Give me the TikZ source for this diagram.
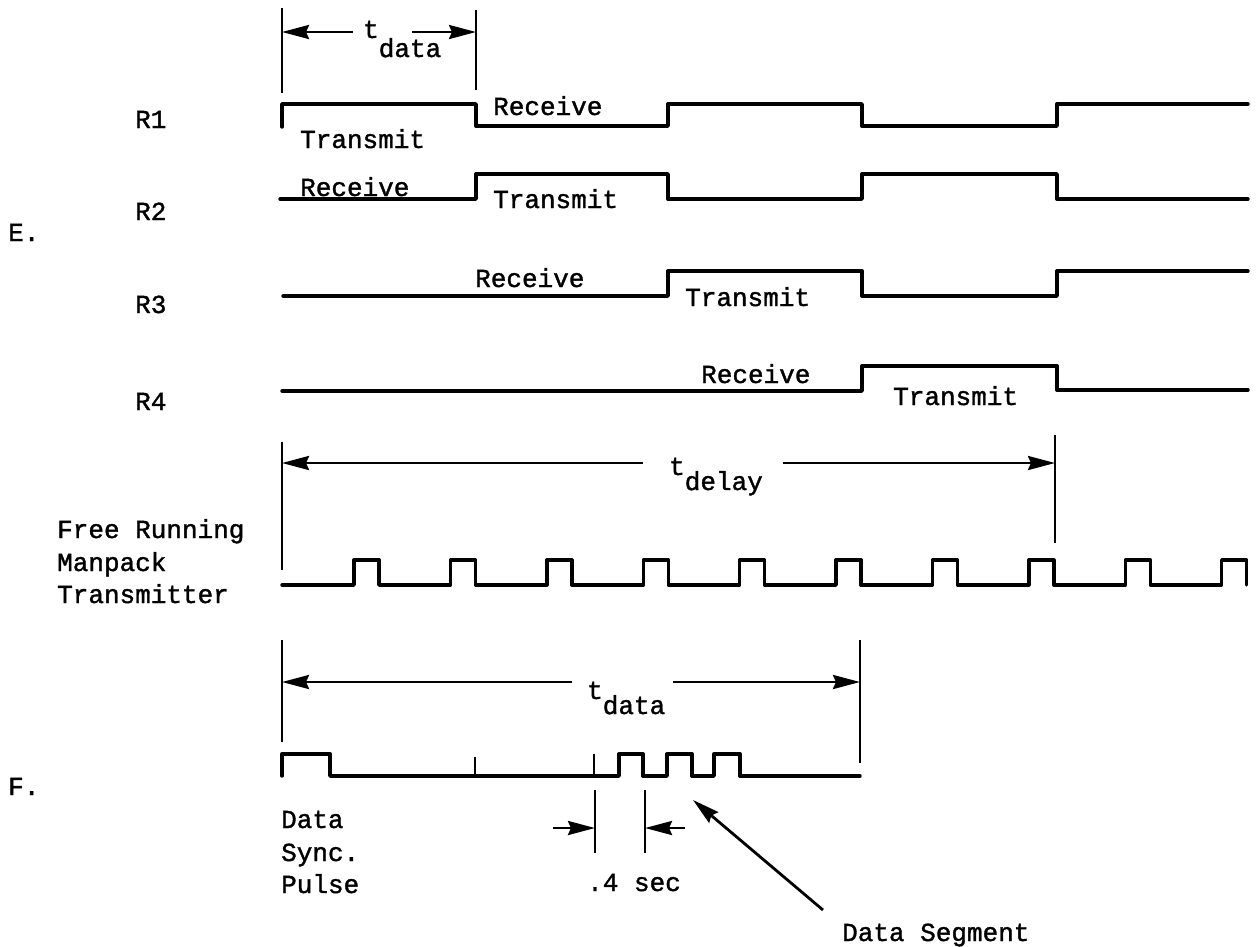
\documentclass[tikz,border=0pt]{standalone}
\usepackage{fontspec}
\setmainfont{Liberation Mono}
\newfontfamily\twfont{Liberation Mono}[FakeBold=1.4]
\usetikzlibrary{arrows.meta}
\begin{document}
\begin{tikzpicture}[x=1pt,y=-1pt,
  wave/.style={line width=3.4pt, line join=round, line cap=round},
  bar/.style={line width=2.4pt},
  dim/.style={line width=2.8pt,-{Stealth[length=27pt,width=14pt,inset=3pt]}},
  lbl/.style={anchor=base west, inner sep=0pt, font=\twfont\fontsize{26}{32.5}\selectfont},
]
\useasboundingbox (0,0) rectangle (1257,946);

% ---------- top t_data bracket ----------
\coordinate (a1t) at (282,8);   \coordinate (a1b) at (282,93);
\coordinate (a2t) at (476,10);  \coordinate (a2b) at (476,90);
\draw[bar] (a1t) -- (a1b);
\draw[bar] (a2t) -- (a2b);
\coordinate (a1m) at (282,32); \coordinate (a2m) at (476,32);
\coordinate (a1s) at (353,32); \coordinate (a2s) at (412,32);
\draw[dim] (a1s) -- (a1m);
\draw[dim] (a2s) -- (a2m);
\node[lbl] (tdata1) at (363,38) {t\raisebox{-19pt}{data}};

% ---------- labels ----------
\node[lbl] (E) at (8,241) {E.};
\node[lbl] (F) at (8,795) {F.};
\node[lbl] (lR1) at (135,128) {R1};
\node[lbl] (lR2) at (135,220) {R2};
\node[lbl] (lR3) at (135,313) {R3};
\node[lbl] (lR4) at (135,410) {R4};

% ---------- R1 ----------
\draw[wave] (282,127) -- (282,104) -- (476,104) -- (476,126) -- (668,126) -- (668,104)
  -- (862,104) -- (862,126) -- (1057,126) -- (1057,104) -- (1248,104);
\node[lbl] (r1rx) at (493,115) {Receive};
\node[lbl] (r1tx) at (300,148) {Transmit};

% ---------- R2 ----------
\draw[wave] (280,199) -- (476,199) -- (476,174) -- (668,174) -- (668,199) -- (862,199)
  -- (862,174) -- (1057,174) -- (1057,199) -- (1248,199);
\node[lbl] (r2rx) at (300,196) {Receive};
\node[lbl] (r2tx) at (493,208) {Transmit};

% ---------- R3 ----------
\draw[wave] (283,296) -- (668,296) -- (668,271) -- (862,271) -- (862,296) -- (1057,296)
  -- (1057,271) -- (1248,271);
\node[lbl] (r3rx) at (475,287) {Receive};
\node[lbl] (r3tx) at (685,306) {Transmit};

% ---------- R4 ----------
\draw[wave] (282,391) -- (862,391) -- (862,366) -- (1057,366) -- (1057,390) -- (1248,390);
\node[lbl] (r4rx) at (701,383) {Receive};
\node[lbl] (r4tx) at (893,405) {Transmit};

% ---------- t_delay ----------
\coordinate (b1t) at (282,442);  \coordinate (b1b) at (282,570);
\coordinate (b2t) at (1055,435); \coordinate (b2b) at (1055,543);
\draw[bar] (b1t) -- (b1b);
\draw[bar] (b2t) -- (b2b);
\coordinate (b1m) at (282,463); \coordinate (b2m) at (1055,463);
\coordinate (b1s) at (643,463); \coordinate (b2s) at (783,463);
\draw[dim] (b1s) -- (b1m);
\draw[dim] (b2s) -- (b2m);
\node[lbl] (tdelay) at (669,475) {t\raisebox{-15pt}{delay}};

% ---------- manpack ----------
\node[lbl] (fr1) at (57,538) {Free Running};
\node[lbl] (fr2) at (57,571) {Manpack};
\node[lbl] (fr3) at (57,603) {Transmitter};
\draw[wave] (282,585) \foreach \k in {0,...,9} {
  -- ({354+96.4*\k},585) -- ({354+96.4*\k},560) -- ({379+96.4*\k},560) -- ({379+96.4*\k},585) };

% ---------- F t_data ----------
\coordinate (c1t) at (282,640); \coordinate (c1b) at (282,742);
\coordinate (c2t) at (860,640); \coordinate (c2b) at (860,763);
\draw[bar] (c1t) -- (c1b);
\draw[bar] (c2t) -- (c2b);
\coordinate (c1m) at (282,682); \coordinate (c2m) at (860,682);
\coordinate (c1s) at (572,682); \coordinate (c2s) at (673,682);
\draw[dim] (c1s) -- (c1m);
\draw[dim] (c2s) -- (c2m);
\node[lbl] (tdata2) at (587,699) {t\raisebox{-15pt}{data}};

% ---------- F waveform ----------
\draw[wave] (282,776) -- (282,754) -- (330,754) -- (330,776) -- (619,776) -- (619,754)
  -- (643,754) -- (643,776) -- (667,776) -- (667,754) -- (692,754) -- (692,776)
  -- (714,776) -- (714,754) -- (740,754) -- (740,776) -- (860,776);
\draw[bar] (475,757) -- (475,776);
\draw[bar] (594,754) -- (594,776);

% ---------- .4 sec ----------
\coordinate (d1t) at (595,790); \coordinate (d1b) at (595,853);
\coordinate (d2t) at (645,790); \coordinate (d2b) at (645,853);
\draw[bar] (d1t) -- (d1b);
\draw[bar] (d2t) -- (d2b);
\coordinate (d1m) at (595,828); \coordinate (d2m) at (645,828);
\coordinate (d1s) at (553,828); \coordinate (d2s) at (685,828);
\draw[dim] (d1s) -- (d1m);
\draw[dim] (d2s) -- (d2m);
\node[lbl] (sec) at (587,891) {.4 sec};

\node[lbl] (ds1) at (281,828) {Data};
\node[lbl] (ds2) at (281,861) {Sync.};
\node[lbl] (ds3) at (281,893) {Pulse};

% ---------- Data Segment ----------
\node[lbl] (dseg) at (842,941) {Data Segment};
\coordinate (dsS) at (823,910); \coordinate (dsT) at (693,800);
\draw[dim] (dsS) -- (dsT);
\end{tikzpicture}
\end{document}
